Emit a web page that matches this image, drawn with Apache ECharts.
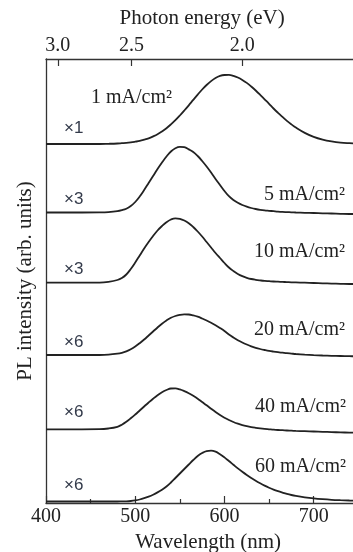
<!DOCTYPE html>
<html>
<head>
<meta charset="utf-8">
<script src="https://cdn.jsdelivr.net/npm/echarts@6/dist/echarts.min.js"></script>
<style>
html,body{margin:0;padding:0;background:#fff;}
#chart{width:353px;height:552px;}
</style>
</head>
<body>
<div id="chart"></div>
<script>
// Wavelength grid (nm)
const wavelengths = [400,420,440,460,470,
  480,485,490,495,500,505,510,515,520,525,
  530,535,540,545,550,555,560,565,570,575,
  580,585,590,595,600,605,610,615,620,625,
  630,635,640,645,650,655,660,665,670,675,
  680,690,700,710,720,730,740,750];
// Offset PL spectra (arb. units, vertically stacked as displayed)
const pl1mA = [359,359,359,359,359.2,
  359.5,359.8,360.1,360.6,361.3,362.1,363.3,364.7,366.6,368.8,
  371.6,374.8,378.6,382.8,387.5,392.5,397.7,403.1,408.4,413.5,
  418,421.9,425,427.1,428,428.1,427.2,425.5,423.1,420.1,
  416.5,412.5,408.2,403.7,399.2,394.5,390.2,386.1,382.1,378.6,
  375.4,370.1,366.1,363.4,361.6,360.4,359.8,359.4];
const pl5mA = [290.5,290.5,290.5,290.6,290.9,
  291.8,292.8,294.3,297,301,306.5,313,320,327,334,
  340.5,346.5,351.5,354.8,356.2,355.8,353.6,351,347,342,
  336.5,330.5,324,318,312,306.8,303,300.2,298,296.3,
  295,294,293.2,292.6,292.2,291.8,291.4,291.1,290.9,290.7,
  290.5,290.2,290,289.7,289.5,289.2,289,289];
const pl10mA = [220.3,220.3,220.3,220.4,221.2,
  223,225,228.5,234,240.5,247.5,254.5,261,267,272.5,
  277,280.8,283.5,284.7,284.2,282.5,279.8,276,271.5,266.5,
  261,255.5,250,245,240,235.5,232,229,226.8,225.2,
  224,223.2,222.6,222.1,221.8,221.5,221.3,221.1,220.9,220.7,
  220.6,220.3,220,219.7,219.4,219.2,219,219];
const pl20mA = [148,148,148,148,148.3,
  149.3,150.2,151.7,153.8,156.5,159.8,163.5,167.5,171.5,175.5,
  179.3,182.5,185.2,187,188.1,188.6,188.5,187.6,186.3,184.5,
  182.5,180.3,177.8,175,172,168.5,165.5,162.8,160.5,158.5,
  156.7,155.2,154,153,152.1,151.4,150.8,150.3,149.8,149.4,
  149,148.4,147.9,147.5,147.2,147,146.8,146.7];
const pl40mA = [73.7,73.7,73.7,73.8,74.5,
  76.2,78.3,81.2,84.7,88.5,92.5,96.5,100.5,104.3,107.8,
  110.8,113,114.5,114.6,113.6,111.9,109.8,107.2,104.3,101,
  97.7,94.3,91,88,85.3,83,81,79.3,77.9,76.8,
  75.9,75.2,74.6,74.1,73.7,73.3,73,72.8,72.5,72.3,
  72.1,71.8,71.5,71.2,70.9,70.6,70.4,70.3];
const pl60mA = [1.5,1.5,1.5,1.5,1.5,
  1.5,1.6,1.7,2,2.6,3.5,4.8,6.4,8.3,10.6,
  13.3,16.5,20.5,25,29.5,34,38.5,43,47,50,
  51.9,52.3,51.3,48.8,45.6,42,38.3,34.6,31.2,28,
  25,22.2,19.7,17.4,15.3,13.4,11.8,10.4,9.1,8,
  7.1,5.7,4.6,3.8,3.2,2.8,2.5,2.3];
const curves = [pl1mA, pl5mA, pl10mA, pl20mA, pl40mA, pl60mA];
// Labels
const currentLabels = ['1 mA/cm²','5 mA/cm²','10 mA/cm²','20 mA/cm²','40 mA/cm²','60 mA/cm²'];
const multiplierLabels = ['×1','×3','×3','×6','×6','×6'];
// Top axis ticks (photon energy, eV)
const energyTicks = [3.0, 2.5, 2.0];
const HC = 1239.84; // eV·nm

const serif = 'Liberation Serif';
const txtColor = '#222';

const energyPos = energyTicks.map(e => HC / e);

const series = curves.map((c) => ({
  type: 'line',
  xAxisIndex: 0,
  yAxisIndex: 0,
  data: wavelengths.map((w, j) => [w, c[j]]),
  smooth: 0.4,
  symbol: 'none',
  clip: true,
  lineStyle: {color: '#222', width: 1.8},
  silent: true
}));

// label placement (pixels)
const curLabelPos = [
  {x: 91, y: 98, align: 'left'},
  {x: 345, y: 195, align: 'right'},
  {x: 345, y: 252, align: 'right'},
  {x: 345, y: 330, align: 'right'},
  {x: 346, y: 407, align: 'right'},
  {x: 346, y: 467, align: 'right'}
];
const multY = [128, 199, 269, 342, 412, 485];

const graphics = [];
currentLabels.forEach((t, i) => {
  graphics.push({
    type: 'text',
    style: {
      text: t, x: curLabelPos[i].x, y: curLabelPos[i].y,
      textAlign: curLabelPos[i].align, textVerticalAlign: 'middle',
      font: '20px "' + serif + '"', fill: txtColor
    }
  });
});
multiplierLabels.forEach((t, i) => {
  graphics.push({
    type: 'text',
    style: {
      text: t, x: 64, y: multY[i],
      textAlign: 'left', textVerticalAlign: 'middle',
      font: '17px "Liberation Sans"', fill: '#333a4a'
    }
  });
});

const chart = echarts.init(document.getElementById('chart'), null, {renderer: 'canvas'});
chart.setOption({
  animation: false,
  backgroundColor: '#fff',
  grid: {left: 46, right: -5.3, top: 59, bottom: 49, containLabel: false, outerBoundsMode: 'none'},
  xAxis: [
    {
      type: 'value', position: 'bottom', min: 400, max: 750, interval: 100,
      name: 'Wavelength (nm)', nameLocation: 'middle', nameGap: 25,
      nameTextStyle: {fontFamily: serif, fontSize: 21, color: txtColor, padding: [0, 0, 0, 12]},
      axisLine: {show: true, lineStyle: {color: '#333', width: 1.3}},
      axisTick: {show: true, inside: true, length: 7, lineStyle: {color: '#333', width: 1.2}},
      minorTick: {show: true, splitNumber: 2, length: 4, lineStyle: {color: '#333', width: 1.2}},
      axisLabel: {fontFamily: serif, fontSize: 20, color: txtColor, margin: 4, showMaxLabel: false},
      splitLine: {show: false}
    },
    {
      type: 'value', position: 'top', min: 400, max: 750,
      name: 'Photon energy (eV)', nameLocation: 'middle', nameGap: 30,
      nameTextStyle: {fontFamily: serif, fontSize: 21, color: txtColor},
      axisLine: {show: true, lineStyle: {color: '#333', width: 1.3}},
      axisTick: {show: true, inside: true, length: 7, customValues: energyPos, lineStyle: {color: '#333', width: 1.2}},
      axisLabel: {fontFamily: serif, fontSize: 20, color: txtColor, margin: 3, customValues: energyPos,
        formatter: v => (HC / v).toFixed(1)},
      splitLine: {show: false}
    }
  ],
  yAxis: {
    type: 'value', min: 0, max: 444,
    name: 'PL intensity (arb. units)', nameLocation: 'middle', nameGap: 10,
    nameTextStyle: {fontFamily: serif, fontSize: 21, color: txtColor},
    axisLine: {show: true, lineStyle: {color: '#333', width: 1.3}},
    axisTick: {show: false},
    axisLabel: {show: false},
    splitLine: {show: false}
  },
  series: series,
  graphic: graphics
});
</script>
</body>
</html>
